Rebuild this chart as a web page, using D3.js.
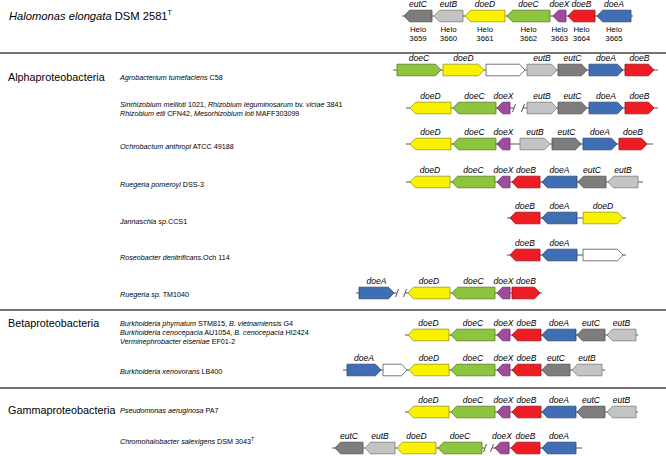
<!DOCTYPE html>
<html><head><meta charset="utf-8">
<script src="https://cdn.jsdelivr.net/npm/d3@7/dist/d3.min.js"></script>
<style>body{margin:0;background:#fff}svg{display:block;font-family:Arial,"Liberation Sans",sans-serif}</style>
</head><body><svg id="c" width="666" height="456"></svg>
<script>
// ---------------- data ----------------
const geneColors = {eutC:"#7d7d7d", eutB:"#c4c4c4", doeD:"#f8f200", doeC:"#8cc43e", doeX:"#a24a9c", doeB:"#ee1c24", doeA:"#3f6eb4", orf:"#ffffff"};

// each gene: [name, start, end, strand]  (strand 1 = right, -1 = left)
const halomonasGenes = [["eutC",404,432,-1],["eutB",434,463,-1],["doeD",465,505,-1],["doeC",507,550,-1],["doeX",553,566,-1],["doeB",568,595,-1],["doeA",597,631,-1]];
const halomonasTags  = ["3659","3660","3661","3662","3663","3664","3665"];
const agroGenes      = [["doeC",397,441,1],["doeD",443,484,1],["orf",486,525,1],["eutB",527,557,1],["eutC",558,587,1],["doeA",589,623,1],["doeB",625,654,1]];
const sinoGenes      = [["doeD",410,451,-1],["doeC",453,496,-1],["doeX",497,510,-1],["eutB",527,557,1],["eutC",558,587,1],["doeA",589,623,1],["doeB",625,654,1]];
const ochroGenes     = [["doeD",410,451,-1],["doeC",453,496,-1],["doeX",497,510,-1],["eutB",520,550,1],["eutC",552,581,1],["doeA",583,617,1],["doeB",619,647,1]];
const rpomGenes      = [["doeD",410,450,-1],["doeC",452,495,-1],["doeX",497,510,-1],["doeB",512,540,-1],["doeA",542,577,-1],["eutC",578,606,-1],["eutB",608,638,-1]];
const jannGenes      = [["doeB",510,540,-1],["doeA",542,577,-1],["doeD",583,623,1]];
const roseoGenes     = [["doeB",510,540,-1],["doeA",542,577,-1],["orf",583,623,1]];
const rtmGenes       = [["doeA",359,394,1],["doeD",408,450,-1],["doeC",452,495,-1],["doeX",497,510,-1],["doeB",512,540,1]];
const burkGenes      = [["doeD",408,449,-1],["doeC",451,495,-1],["doeX",497,510,-1],["doeB",512,541,-1],["doeA",542,576,-1],["eutC",577,605,-1],["eutB",607,636,-1]];
const xenoGenes      = [["doeA",347,381,1],["orf",383,407,1],["doeD",409,449,-1],["doeC",451,495,-1],["doeX",497,510,-1],["doeB",512,541,-1],["eutC",542,570,-1],["eutB",572,602,-1]];
const pseudoGenes    = [["doeD",408,449,-1],["doeC",451,495,-1],["doeX",497,510,-1],["doeB",512,541,-1],["doeA",542,576,-1],["eutC",577,605,-1],["eutB",607,636,-1]];
const chromoGenes    = [["eutC",335,363,-1],["eutB",365,395,-1],["doeD",397,436,-1],["doeC",438,482,-1],["doeX",495,509,-1],["doeB",511,540,-1],["doeA",542,576,-1]];

const rowGenes  = [halomonasGenes, agroGenes, sinoGenes, ochroGenes, rpomGenes, jannGenes, roseoGenes, rtmGenes, burkGenes, xenoGenes, pseudoGenes, chromoGenes];
const rowSpans  = [[402,633],[393,658],[406,658],[406,653],[406,643],[507,626],[507,626],[356,542],[405,638],[343,605],[405,638],[332,582]];
const rowBreaks = [null,null,[514,523],null,null,null,null,[397,405],null,null,null,[485,492]];

// species label lines: segments [text, style] (0 normal, 1 italic, 2 superscript)
const speciesLabels = [
  null,
  [[["Agrobacterium tumefaciens",1],[" C58",0]]],
  [[["Sinrhizobium meliloti",1],[" 1021, ",0],["Rhizobium leguminosarum",1],[" bv. ",0],["viciae",1],[" 3841",0]],
   [["Rhizobium etli",1],[" CFN42, ",0],["Mesorhizobium loti",1],[" MAFF303099",0]]],
  [[["Ochrobactum anthropi",1],[" ATCC 49188",0]]],
  [[["Ruegeria pomeroyi",1],[" DSS-3",0]]],
  [[["Jannaschia sp.",1],["CCS1",0]]],
  [[["Roseobacter denitrificans",1],[".Och 114",0]]],
  [[["Ruegeria sp.",1],[" TM1040",0]]],
  [[["Burkholderia phymatum",1],[" STM815, ",0],["B. vietnamiensis",1],[" G4",0]],
   [["Burkholderia cenocepacia",1],[" AU1054, ",0],["B. cenocepacia",1],[" HI2424",0]],
   [["Verminephrobacter eiseniae",1],[" EF01-2",0]]],
  [[["Burkholderia xenovorans",1],[" LB400",0]]],
  [[["Pseudomonas aeruginosa",1],[" PA7",0]]],
  [[["Chromohalobacter salexigens",1],[" DSM 3043",0],["T",2]]]
];
const groupNames = ["Alphaproteobacteria","Betaproteobacteria","Gammaproteobacteria"];
const groupRows  = [1, 8, 10];

// ---------------- layout ----------------
const rowY      = [16, 70, 108, 144, 182, 218, 255, 293, 335, 370, 412, 448];
const labelY    = [null, 77, 104, 146, 184, 221, 257, 294, 323, 371, 410, 441];
const separators = [53, 310, 388];

const svg = d3.select("#c");
const x = d3.scaleLinear().domain([0, 666]).range([0, 666]);
const H = 5.8;

svg.append("g").selectAll("line").data(separators).join("line")
  .attr("x1", 0).attr("x2", 666).attr("y1", d => d).attr("y2", d => d)
  .attr("stroke", "#444").attr("stroke-width", 1.4);

function arrowPath(g, y) {
  const [ , s, e, strand] = g;
  const x0 = x(s), x1 = x(e);
  const h = Math.min(5.5, (x1 - x0) * 0.45);
  if (strand > 0)
    return `M${x0},${y-H}L${x1-h},${y-H}L${x1},${y}L${x1-h},${y+H}L${x0},${y+H}Z`;
  return `M${x1},${y-H}L${x0+h},${y-H}L${x0},${y}L${x0+h},${y+H}L${x1},${y+H}Z`;
}

rowGenes.forEach((genes, i) => {
  const y = rowY[i];
  const g = svg.append("g");
  const [a, b] = rowSpans[i];
  const br = rowBreaks[i];
  const segs = br ? [[a, br[0]], [br[1], b]] : [[a, b]];
  g.selectAll("line.bb").data(segs).join("line").attr("class", "bb")
    .attr("x1", d => x(d[0])).attr("x2", d => x(d[1]))
    .attr("y1", y).attr("y2", y).attr("stroke", "#555").attr("stroke-width", 1);
  if (br) {
    g.selectAll("line.sl").data(br).join("line").attr("class", "sl")
      .attr("x1", d => x(d) - 1.5).attr("x2", d => x(d) + 1.5)
      .attr("y1", y + 4).attr("y2", y - 4).attr("stroke", "#555").attr("stroke-width", 1);
  }
  g.selectAll("path").data(genes).join("path")
    .attr("d", d => arrowPath(d, y))
    .attr("fill", d => geneColors[d[0]])
    .attr("stroke", d => d[0] === "orf" ? "#555" : d3.color(geneColors[d[0]]).darker(1.3))
    .attr("stroke-width", 0.8);
  g.selectAll("text.gn").data(genes.filter(d => d[0] !== "orf")).join("text").attr("class", "gn")
    .attr("x", d => x((d[1] + d[2]) / 2)).attr("y", y - 9)
    .attr("text-anchor", "middle").attr("font-size", 8.5).attr("font-style", "italic")
    .attr("fill", "#000").text(d => d[0]);
});

// Halomonas locus tags
const tagG = svg.append("g").selectAll("text").data(halomonasGenes).join("text")
  .attr("text-anchor", "middle").attr("font-size", 7.8).attr("fill", "#000")
  .attr("transform", d => `translate(${x((d[1] + d[2]) / 2)},0)`);
tagG.append("tspan").attr("x", 0).attr("y", 32).text("Helo");
tagG.append("tspan").attr("x", 0).attr("y", 41).text((d, i) => halomonasTags[i]);

// title
const title = svg.append("text").attr("x", 9).attr("y", 20).attr("font-size", 11.2).attr("fill", "#000");
title.append("tspan").attr("font-style", "italic").text("Halomonas elongata");
title.append("tspan").text(" DSM 2581");
title.append("tspan").attr("font-size", 7).attr("dy", -5).text("T");

// group names
svg.append("g").selectAll("text").data(groupNames).join("text")
  .attr("x", 8).attr("y", (d, i) => labelY[groupRows[i]] + 4)
  .attr("font-size", 10.8).attr("fill", "#000").text(d => d);

// species labels
speciesLabels.forEach((lines, i) => {
  if (!lines) return;
  lines.forEach((segs, j) => {
    const t = svg.append("text").attr("x", 120).attr("y", labelY[i] + 2.5 + j * 9)
      .attr("font-size", 7.2).attr("fill", "#000");
    segs.forEach(s => {
      const sp = t.append("tspan").text(s[0]);
      if (s[1] === 1) sp.attr("font-style", "italic");
      if (s[1] === 2) sp.attr("font-size", 5).attr("dy", -3);
    });
  });
});
</script></body></html>
